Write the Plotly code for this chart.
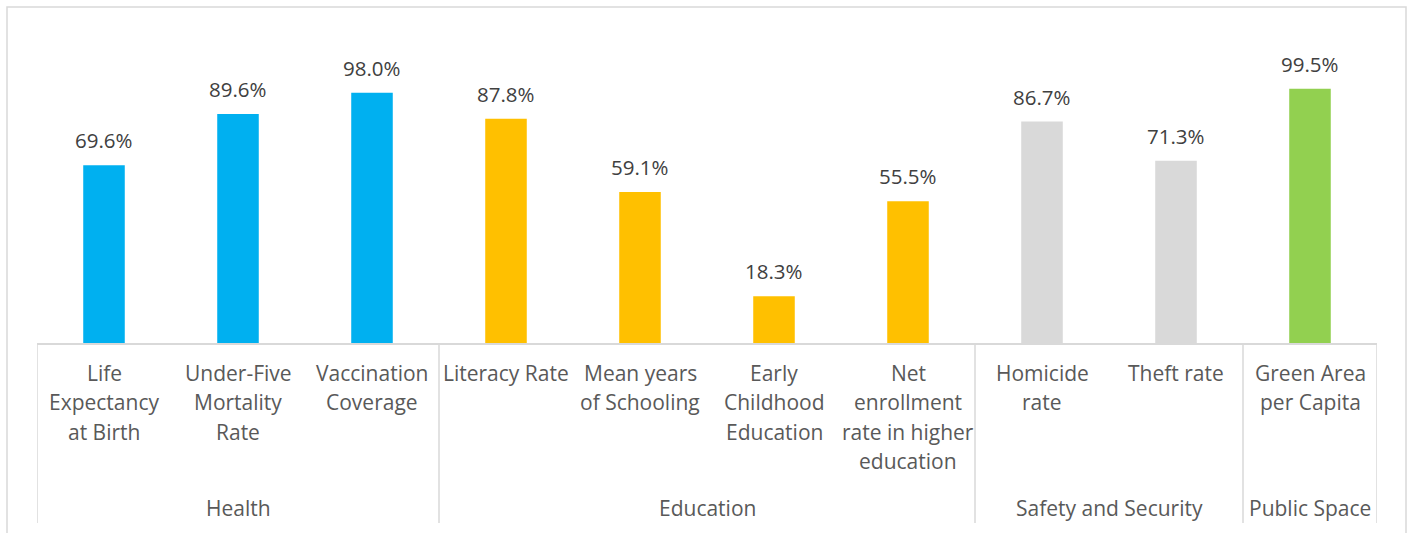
import plotly.graph_objects as go

groups = ["Health", "Health", "Health",
          "Education", "Education", "Education", "Education",
          "Safety and Security", "Safety and Security",
          "Public Space"]
indicators = ["Life Expectancy at Birth", "Under-Five Mortality Rate", "Vaccination Coverage",
              "Literacy Rate", "Mean years of Schooling", "Early Childhood Education",
              "Net enrollment rate in higher education",
              "Homicide rate", "Theft rate", "Green Area per Capita"]
tick_lines = [["Life", "Expectancy", "at Birth"],
              ["Under-Five", "Mortality", "Rate"],
              ["Vaccination", "Coverage"],
              ["Literacy Rate"],
              ["Mean years", "of Schooling"],
              ["Early", "Childhood", "Education"],
              ["Net", "enrollment", "rate in higher", "education"],
              ["Homicide", "rate"],
              ["Theft rate"],
              ["Green Area", "per Capita"]]
values = [69.6, 89.6, 98.0, 87.8, 59.1, 18.3, 55.5, 86.7, 71.3, 99.5]
group_colors = {"Health": "#00B0F0", "Education": "#FFC000",
                "Safety and Security": "#D9D9D9", "Public Space": "#92D050"}

W, H = 1411, 533
ML, MR, MT, MB = 37, 34, 62, 190
plot_w = W - ML - MR
plot_h = H - MT - MB
font = "Open Sans"

fig = go.Figure()
fig.add_trace(go.Bar(
    x=indicators, y=values,
    marker=dict(color=[group_colors[g] for g in groups], line=dict(width=0)),
    hoverinfo="x+y",
))

annotations = []
shapes = []

# data labels
for name, v in zip(indicators, values):
    annotations.append(dict(x=name, y=v, xref="x", yref="y", text=f"{v:.1f}%",
                            showarrow=False, yanchor="middle", yshift=25,
                            font=dict(family=font, size=20.5, color="#404040")))

# category labels (one annotation per line)
line_step = 29.3
for i, lines in enumerate(tick_lines):
    for j, ln in enumerate(lines):
        annotations.append(dict(x=i, y=0, xref="x", yref="paper", text=ln,
                                showarrow=False, yanchor="middle",
                                yshift=-(30 + j * line_step),
                                font=dict(family=font, size=21, color="#595959")))

# group labels and dividers
order = []
for g in groups:
    if g not in order:
        order.append(g)
start = 0
bounds = [-0.5]
div_bottom = -(523 - (MT + plot_h)) / plot_h
for g in order:
    n = groups.count(g)
    end = start + n
    annotations.append(dict(x=(start + end - 1) / 2, y=0, xref="x", yref="paper", text=g,
                            showarrow=False, yanchor="middle", yshift=-165,
                            font=dict(family=font, size=21, color="#595959")))
    bounds.append(end - 0.5)
    start = end
for b in bounds:
    shapes.append(dict(type="line", xref="x", yref="paper", x0=b, x1=b, y0=0, y1=div_bottom,
                       line=dict(color="#D9D9D9", width=1.5)))

# outer chart border
shapes.append(dict(type="rect", xref="paper", yref="paper",
                   x0=(7 - ML) / plot_w, x1=(1406 - ML) / plot_w,
                   y0=-(545 - (MT + plot_h)) / plot_h, y1=((MT + plot_h) - 7) / plot_h,
                   line=dict(color="#D9D9D9", width=1.5), fillcolor="rgba(0,0,0,0)"))

fig.update_layout(
    width=W, height=H,
    margin=dict(l=ML, r=MR, t=MT, b=MB),
    paper_bgcolor="white", plot_bgcolor="white",
    bargap=0.69,
    showlegend=False,
    xaxis=dict(type="category", range=[-0.5, len(indicators) - 0.5], showticklabels=False,
               showline=True, linecolor="#D9D9D9", linewidth=1.5, showgrid=False,
               zeroline=False, ticks=""),
    yaxis=dict(range=[0, 110], visible=False, showgrid=False, zeroline=False),
    annotations=annotations,
    shapes=shapes,
)

fig.write_html("out.html", config={"displayModeBar": False},
               post_script="document.body.style.margin='0';document.body.style.overflow='hidden';")
